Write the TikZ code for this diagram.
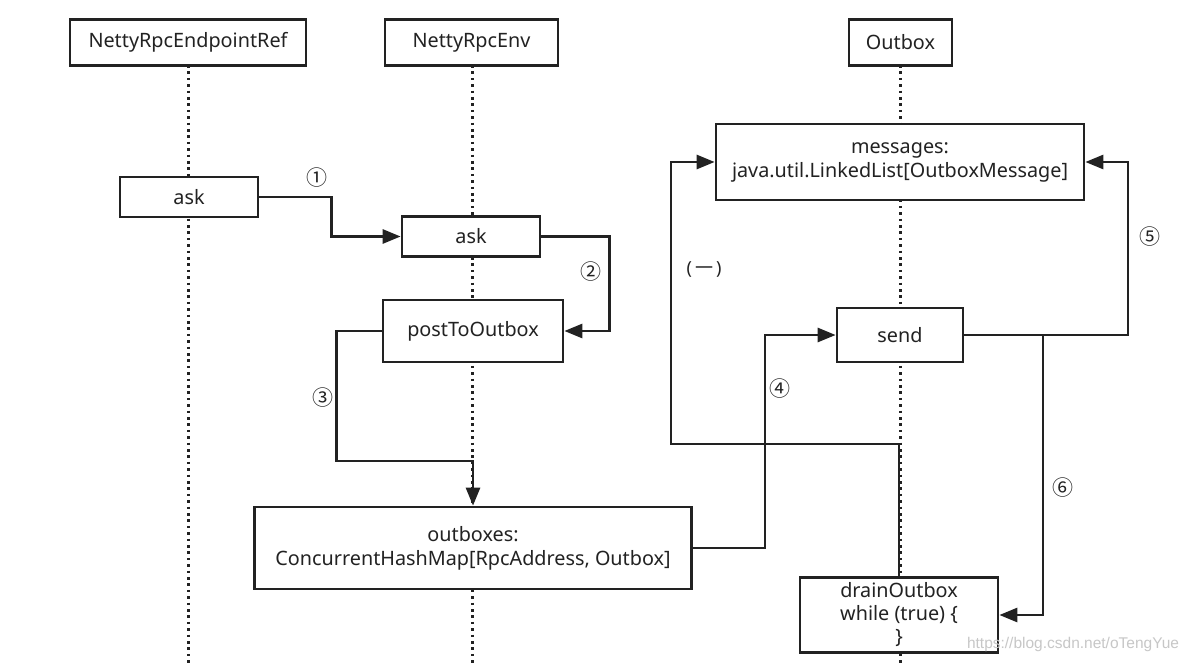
\documentclass[tikz,border=0pt]{standalone}
\usepackage{fontspec}
\setmainfont{Noto Sans}
\newfontfamily\cjk{Noto Sans CJK SC}
\newfontfamily\wmfont{Liberation Sans}
\usetikzlibrary{arrows.meta}
\definecolor{ink}{HTML}{222222}
\begin{document}
\begin{tikzpicture}[x=1pt,y=-1pt,
  box/.style={draw=ink,line width=2.7pt,fill=white,rectangle,inner sep=0pt,align=center,
     font=\fontsize{19.8}{24}\selectfont,text=ink},
  life/.style={draw=ink,line width=3pt,dash pattern=on 2.6pt off 3.8pt},
  conn/.style={draw=ink,line width=2.7pt},
  arr/.style={conn,-{Triangle[length=18pt,width=14pt]}},
  num/.style={font=\cjk\fontsize{21}{24}\selectfont,text=ink,inner sep=0pt}]
\useasboundingbox (0,0) rectangle (1193,663);
\fill[white] (0,0) rectangle (1193,663);
% lifelines
\coordinate (b1) at (188,663);
\coordinate (b2) at (472,663);
\coordinate (b3) at (900,663);
\draw[life] (188,65) -- (b1);
\draw[life] (472,65) -- (b2);
\draw[life] (900,65) -- (b3);
% boxes
\node[box,minimum width=236pt,minimum height=46pt] (ref) at (188,42.5) {NettyRpcEndpointRef};
\node[box,minimum width=173pt,minimum height=46pt] (env) at (471.5,42.5) {NettyRpcEnv};
\node[box,minimum width=103pt,minimum height=46pt] (outb) at (900.5,42.5) {Outbox};
\node[box,minimum width=138pt,minimum height=40pt] (ask1) at (189,197) {ask};
\node[box,minimum width=138pt,minimum height=40pt] (ask2) at (471,236.5) {ask};
\node[box,minimum width=180pt,minimum height=62pt] (post) at (473,331) {postToOutbox};
\node[box,minimum width=368pt,minimum height=76pt] (msgs) at (900,162) {messages:\\java.util.LinkedList[OutboxMessage]};
\node[box,minimum width=126pt,minimum height=54pt] (send) at (900,335) {send};
\node[box,minimum width=437pt,minimum height=82pt] (obx) at (473,548) {outboxes:\\ConcurrentHashMap[RpcAddress, Outbox]};
\node[box,minimum width=198pt,minimum height=75pt,font=\fontsize{19.8}{23}\selectfont] (drain) at (899,615) {drainOutbox\\while (true) \{\\\}};
% connectors
\draw[arr] (ask1.east) -- ++(72,0) |- (ask2.west);
\draw[arr] (ask2.east) -- ++(68,0) |- (post.east);
\coordinate (c3) at (473,461);
\draw[arr] (post.west) -- ++(-45,0) |- (c3) -- (obx.north);
\draw[arr] (obx.east) -- ++(72,0) |- (send.west);
\coordinate (k1) at (671,444);
\draw[arr] (drain.north) |- (k1) |- (msgs.west);
\coordinate (k5) at (1128,335);
\draw[arr] (send.east) -- (k5) |- (msgs.east);
\coordinate (k6) at (1043,335);
\draw[arr] (k6) |- (drain.east);
% labels
\node[num] (n1) at (317,178) {①};
\node[num] (n2) at (591,272) {②};
\node[num] (n3) at (323,398) {③};
\node[num] (n4) at (780,389) {④};
\node[num] (n5) at (1150,237) {⑤};
\node[num] (n6) at (1063,488) {⑥};
\node[num,font=\fontsize{18}{22}\selectfont] (n7) at (704,269) {(\,{\cjk 一}\,)};
\node[font=\wmfont\fontsize{15.5}{18}\selectfont,text=black!22,inner sep=0pt] (wm) at (1073,644) {https://blog.csdn.net/oTengYue};
\end{tikzpicture}
\end{document}
